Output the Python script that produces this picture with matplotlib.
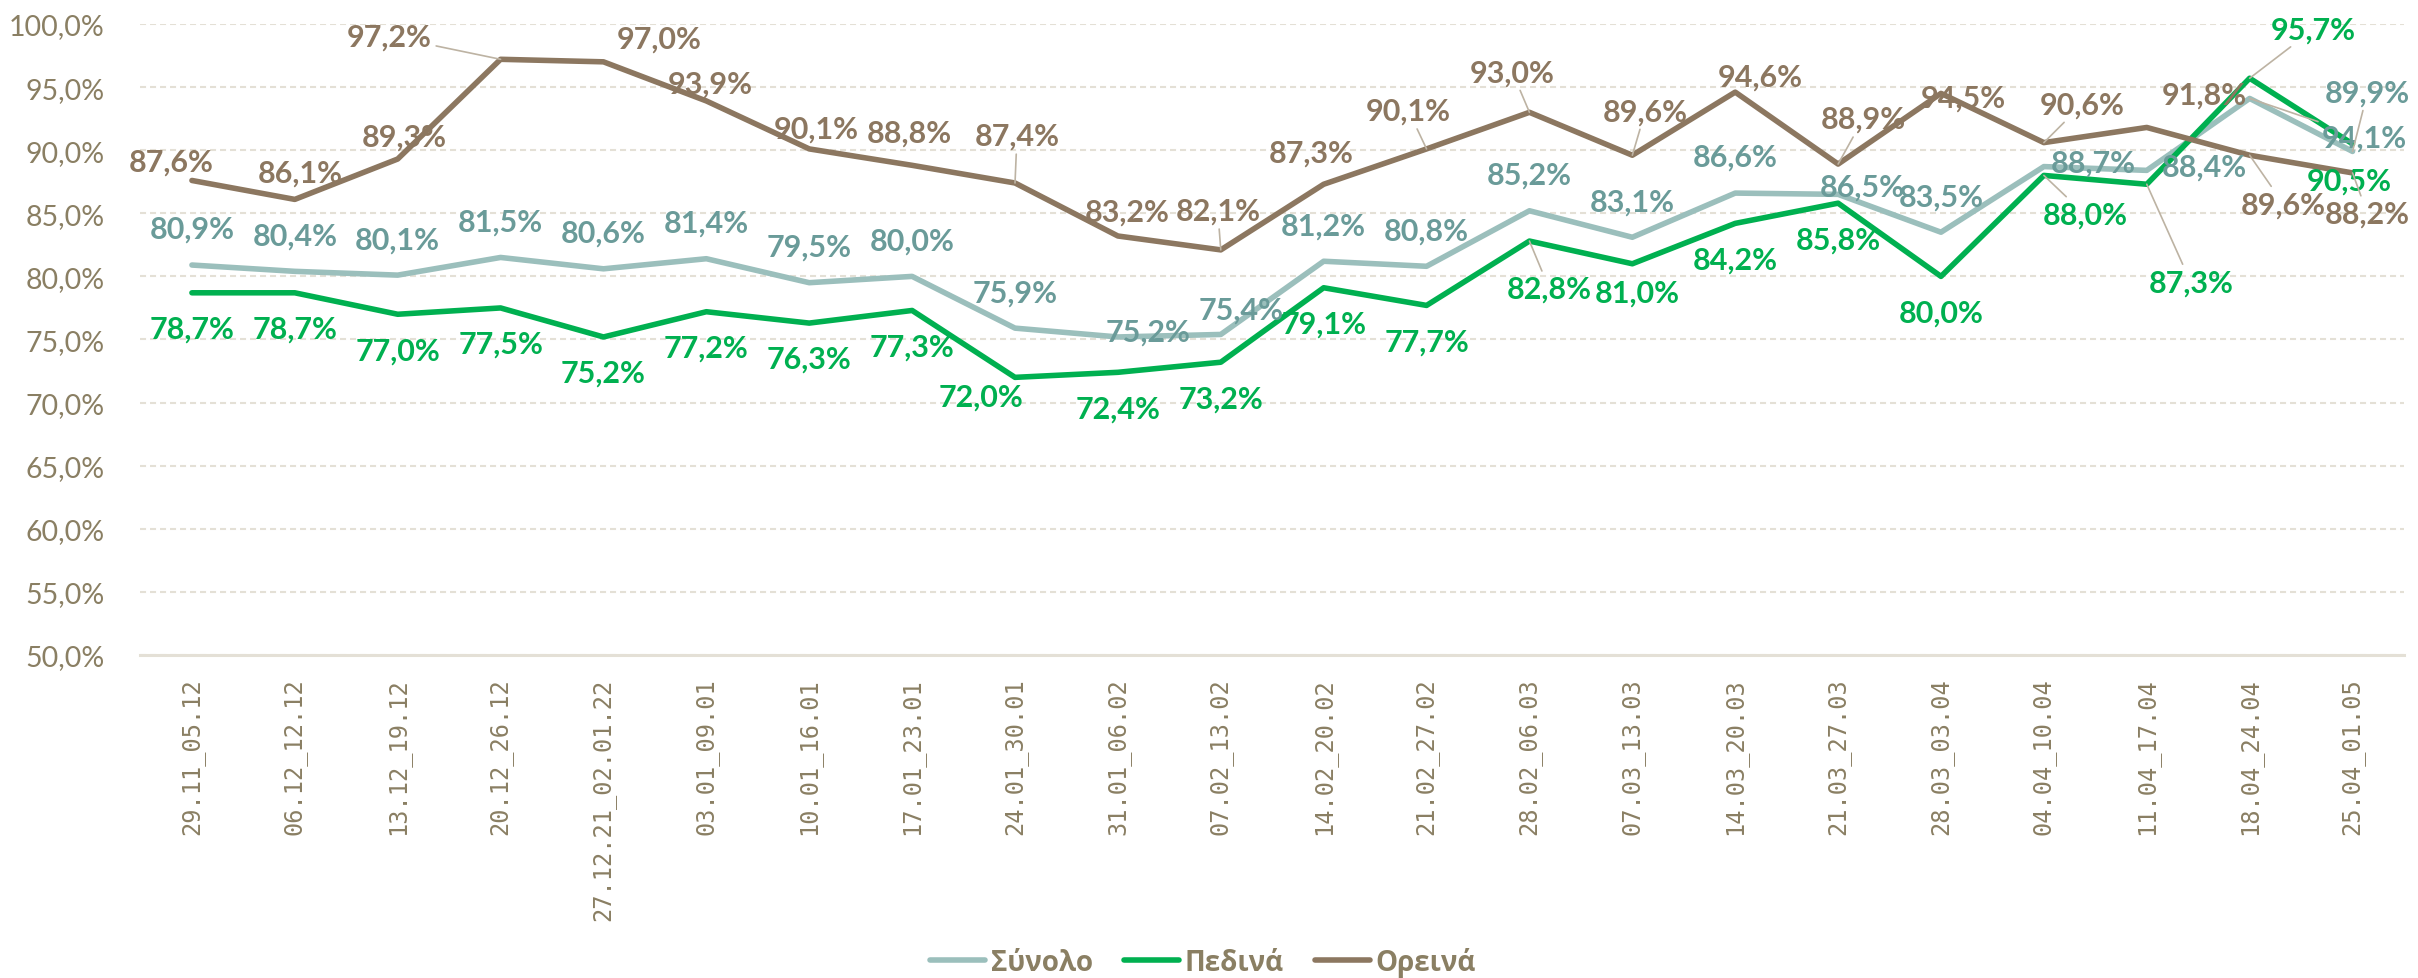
import matplotlib
matplotlib.use('Agg')
import matplotlib.pyplot as plt
from matplotlib.lines import Line2D
from matplotlib.ticker import FuncFormatter

weeks = ['29.11_05.12', '06.12_12.12', '13.12_19.12', '20.12_26.12', '27.12.21_02.01.22',
         '03.01_09.01', '10.01_16.01', '17.01_23.01', '24.01_30.01', '31.01_06.02',
         '07.02_13.02', '14.02_20.02', '21.02_27.02', '28.02_06.03', '07.03_13.03',
         '14.03_20.03', '21.03_27.03', '28.03_03.04', '04.04_10.04', '11.04_17.04',
         '18.04_24.04', '25.04_01.05']
synolo = [80.9, 80.4, 80.1, 81.5, 80.6, 81.4, 79.5, 80.0, 75.9, 75.2, 75.4,
          81.2, 80.8, 85.2, 83.1, 86.6, 86.5, 83.5, 88.7, 88.4, 94.1, 89.9]
pedina = [78.7, 78.7, 77.0, 77.5, 75.2, 77.2, 76.3, 77.3, 72.0, 72.4, 73.2,
          79.1, 77.7, 82.8, 81.0, 84.2, 85.8, 80.0, 88.0, 87.3, 95.7, 90.5]
oreina = [87.6, 86.1, 89.3, 97.2, 97.0, 93.9, 90.1, 88.8, 87.4, 83.2, 82.1,
          87.3, 90.1, 93.0, 89.6, 94.6, 88.9, 94.5, 90.6, 91.8, 89.6, 88.2]
names = ['Σύνολο', 'Πεδινά', 'Ορεινά']

# label offsets in pixels (dx, dy with y pointing down), hand placed like the excel original
off_syn = [(0, -36)] * 22
off_syn[9] = (30, -5)
off_syn[10] = (20, -25)
off_syn[16] = (24, -8)
off_syn[18] = (49, -4)
off_syn[19] = (58, -4)
off_syn[20] = (115, 39)
off_syn[21] = (15, -59)

off_ped = [(0, 36)] * 22
off_ped[8] = (-34, 19)
off_ped[13] = (20, 48)
off_ped[14] = (5, 29)
off_ped[18] = (41, 39)
off_ped[19] = (44, 98)
off_ped[20] = (64, -49)
off_ped[21] = (-3, 37)

off_ore = [(-21, -19), (5, -27), (7, -22), (-111, -23), (56, -23), (4, -17), (7, -20),
           (-3, -33), (2, -47), (9, -24), (-3, -39), (-12, -32), (-18, -38), (-17, -40),
           (13, -44), (25, -16), (25, -45), (22, 4), (38, -38), (58, -33), (34, 49), (15, 41)]

leaders = {0: [20, 21], 1: [13, 18, 19, 20], 2: [3, 8, 10, 12, 13, 14, 16, 18, 20, 21]}

line_cols = ['#9BBFBC', '#00B050', '#8C7760']
lab_cols = ['#6A9B99', '#00B050', '#8C7760']
txt_col = '#8A7F63'
grid_col = '#E4E0D6'

fig = plt.figure(figsize=(24.18, 9.79), dpi=100)
ax = fig.add_axes([0.0581, 0.3299, 0.9361, 0.6446])

x = list(range(len(weeks)))
for k, (vals, offs) in enumerate(zip([synolo, pedina, oreina], [off_syn, off_ped, off_ore])):
    ax.plot(x, vals, color=line_cols[k], lw=4.0, solid_joinstyle='round',
            solid_capstyle='round', zorder=3 + k)
    for i, v in enumerate(vals):
        dx, dy = offs[i]
        kw = {}
        if i in leaders[k]:
            kw['arrowprops'] = dict(arrowstyle='-', color='#BDB3A3', lw=1.2,
                                    shrinkA=1, shrinkB=0)
        ax.annotate(('%.1f' % v).replace('.', ',') + '%', (i, v), xytext=(dx, -dy),
                    textcoords='offset pixels', ha='center', va='center',
                    fontsize=22, fontweight='bold', family=['Lato', 'DejaVu Sans'],
                    color=lab_cols[k], zorder=10, **kw)

ax.set_xlim(-0.5, len(weeks) - 0.5)
ax.set_ylim(50, 100)
ax.set_yticks(range(50, 101, 5))
ax.yaxis.set_major_formatter(FuncFormatter(lambda v, p: ('%.1f' % v).replace('.', ',') + '%'))
ax.set_xticks(x)
ax.set_xticklabels(weeks, rotation=90, family='DejaVu Sans Mono', fontsize=17, color=txt_col)
for t in ax.get_yticklabels():
    t.set_family(['Lato', 'DejaVu Sans'])
    t.set_fontsize(20.5)
    t.set_color(txt_col)
ax.tick_params(axis='both', length=0)
ax.tick_params(axis='x', pad=16)
ax.tick_params(axis='y', pad=26)

ax.yaxis.grid(True, color=grid_col, lw=1.5, linestyle=(0, (2.9, 1.9)))
ax.set_axisbelow(True)
for s in ['top', 'right', 'left']:
    ax.spines[s].set_visible(False)
ax.spines['bottom'].set_color(grid_col)
ax.spines['bottom'].set_linewidth(2.2)

handles = [Line2D([], [], color=c, lw=4.0, solid_capstyle='round') for c in line_cols]
leg = fig.legend(handles, names, loc='center', bbox_to_anchor=(0.4975, 0.0163), ncol=3,
                 frameon=False, handlelength=2.0, handletextpad=0.2, columnspacing=1.1,
                 prop={'family': ['Open Sans', 'DejaVu Sans'], 'weight': 'bold', 'size': 20})
for t in leg.get_texts():
    t.set_color(txt_col)

fig.savefig('out.png', dpi=100)
